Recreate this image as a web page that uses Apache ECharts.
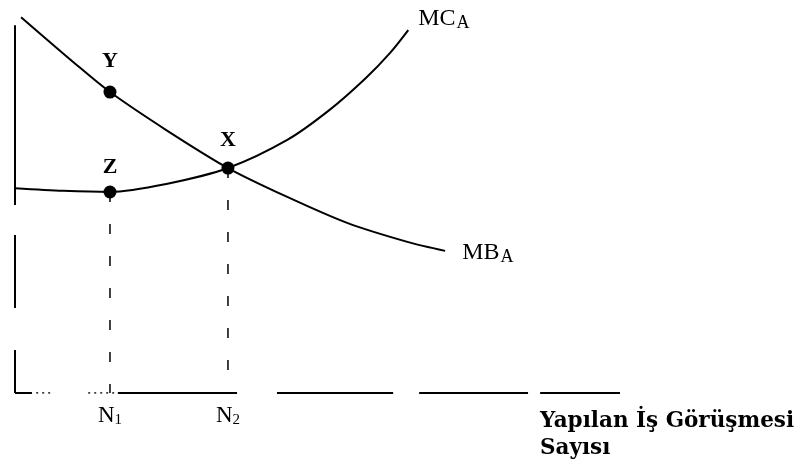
<!DOCTYPE html>
<html>
<head>
<meta charset="UTF-8">
<title>MC - MB</title>
<script src="https://cdn.jsdelivr.net/npm/echarts@6.0.0/dist/echarts.min.js"></script>
<style>html,body{margin:0;background:#fff}#container{width:808px;height:468px}</style>
</head>
<body>
<div id="container"></div>
<script>
// MB egrisi (marjinal fayda)
var mbX = [1, 10, 15.7, 25, 35.2, 45, 55, 65, 71.1];
var mbY = [98.9, 86.6, 79.2, 69.2, 59.2, 51.6, 44.7, 39.7, 37.4];
// MC egrisi (marjinal maliyet)
var mcX = [0, 8, 15.7, 25, 35.2, 45, 52, 58, 62, 65];
var mcY = [53.9, 53.2, 52.9, 55.0, 59.2, 66.6, 74.5, 82.9, 89.5, 95.5];
// noktalar
var pointNames = ['Y', 'Z', 'X'];
var pointX = [15.7, 15.7, 35.2];
var pointY = [79.2, 52.9, 59.2];
// yatay eksen isaretleri N1, N2
var tickSubs = ['1', '2'];
var tickX = [15.7, 35.2];
// eksen parcalari (taranmis cizimdeki bosluklar)
var yAxisSegs = [[96.8, 49.5], [41.6, 22.4], [11.3, 0]];
var xAxisSegs = [[0, 2.8], [17, 36.7], [43.3, 62.5], [66.8, 84.8], [86.8, 100]];
var xAxisDots = [[3.5, 6.1], [12.1, 16.5]];

var ink = '#000';
var serif = 'Liberation Serif';

var series = [];
function plainLine(data, w, type) {
    series.push({
        type: 'line', data: data, symbol: 'none', silent: true,
        lineStyle: { color: ink, width: w, type: type || 'solid' }
    });
}
yAxisSegs.forEach(function (s) { plainLine([[0, s[0]], [0, s[1]]], 2); });
xAxisSegs.forEach(function (s) { plainLine([[s[0], 0], [s[1], 0]], 2); });
xAxisDots.forEach(function (s) { plainLine([[s[0], 0], [s[1], 0]], 1.5, [2, 4]); });
// noktalardan eksene inen kesikli cizgiler
[1, 2].forEach(function (i) {
    plainLine([[pointX[i], pointY[i]], [pointX[i], 0]], 1.5, [10, 22]);
});

function curve(xs, ys, text, offset) {
    return {
        type: 'line', smooth: 0.3, symbol: 'none', silent: true,
        lineStyle: { color: ink, width: 2 },
        data: xs.map(function (x, i) { return [x, ys[i]]; }),
        endLabel: {
            show: true, distance: 10, offset: offset, formatter: text,
            rich: {
                m: { fontFamily: serif, fontSize: 24, color: ink, lineHeight: 26 },
                s: { fontFamily: serif, fontSize: 18, color: ink, lineHeight: 8, verticalAlign: 'bottom', padding: [0, 0, 0, 1] }
            }
        }
    };
}
series.push(curve(mbX, mbY, '{m|MB}{s|A}', [7, 2]));
series.push(curve(mcX, mcY, '{m|MC}{s|A}', [0, -11]));

var labelDist = [13, 7, 10];
series.push({
    type: 'scatter', symbolSize: 13, itemStyle: { color: ink, opacity: 1 },
    data: pointNames.map(function (n, i) {
        return {
            name: n, value: [pointX[i], pointY[i]],
            label: { show: true, position: 'top', distance: labelDist[i], formatter: '{b}',
                fontFamily: serif, fontWeight: 'bold', fontSize: 22, color: ink }
        };
    })
});
series.push({
    type: 'scatter', symbolSize: 0, itemStyle: { opacity: 1 },
    data: tickX.map(function (x, i) {
        return {
            value: [x, 0],
            label: { show: true, position: 'bottom', distance: 11, color: ink,
                formatter: '{n|N}{s|' + tickSubs[i] + '}',
                rich: {
                    n: { fontFamily: serif, fontSize: 23, color: ink, lineHeight: 24 },
                    s: { fontFamily: serif, fontSize: 15, color: ink, lineHeight: 6, verticalAlign: 'bottom' }
                } }
        };
    })
});

var myChart = echarts.init(document.getElementById('container'));
var option = {
    animation: false,
    backgroundColor: '#fff',
    title: {
        text: 'Yapılan İş Görüşmesi\nSayısı',
        left: 535, top: 403,
        textStyle: { fontFamily: 'DejaVu Serif', fontWeight: 'bold', fontSize: 21.5, lineHeight: 27, color: ink }
    },
    grid: { left: 15, top: 13, width: 605, height: 380 },
    xAxis: { type: 'value', min: 0, max: 100, show: false },
    yAxis: { type: 'value', min: 0, max: 100, show: false },
    series: series
};
myChart.setOption(option);
</script>
</body>
</html>
